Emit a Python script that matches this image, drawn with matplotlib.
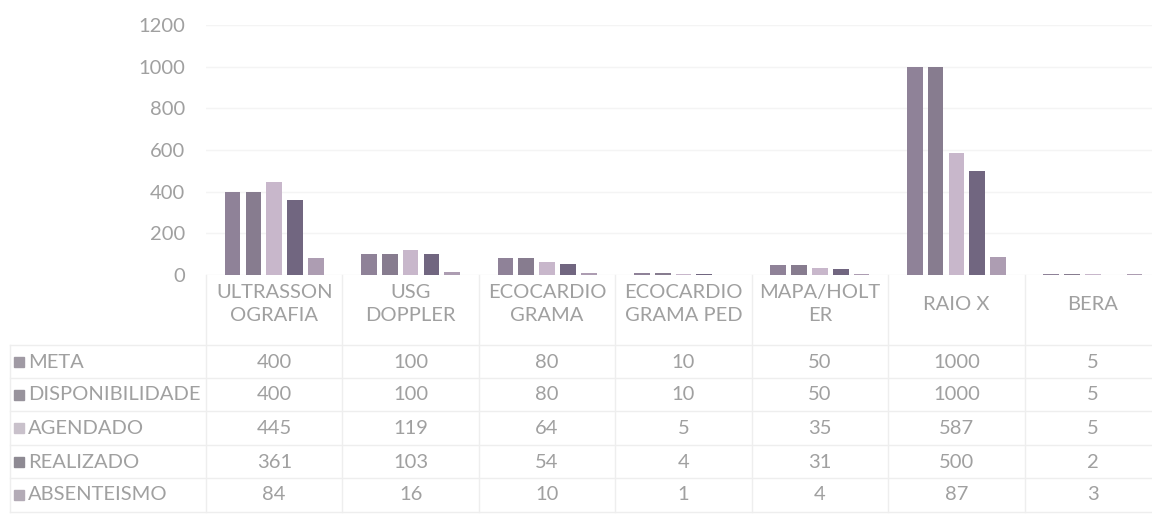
import matplotlib.pyplot as plt
import numpy as np
from matplotlib.lines import Line2D
from matplotlib.patches import Rectangle

# data
categories = ['ULTRASSON\nOGRAFIA', 'USG\nDOPPLER', 'ECOCARDIO\nGRAMA',
              'ECOCARDIO\nGRAMA PED', 'MAPA/HOLT\nER', 'RAIO X', 'BERA']
series = ['META', 'DISPONIBILIDADE', 'AGENDADO', 'REALIZADO', 'ABSENTEISMO']
meta = [400, 100, 80, 10, 50, 1000, 5]
disponibilidade = [400, 100, 80, 10, 50, 1000, 5]
agendado = [445, 119, 64, 5, 35, 587, 5]
realizado = [361, 103, 54, 4, 31, 500, 2]
absenteismo = [84, 16, 10, 1, 4, 87, 3]
values = [meta, disponibilidade, agendado, realizado, absenteismo]
colors = ['#8f8298', '#877c8f', '#c8b7cb', '#716680', '#ad9db2']
key_colors = ['#a09aa4', '#98939c', '#c9c1cb', '#8e8a93', '#b3abb6']

plt.rcParams['font.family'] = ['Lato', 'DejaVu Sans']
txt = '#a0a0a0'
line_c = '#eeeeee'
fs = 14.5

W, H = 1152, 520
fig = plt.figure(figsize=(W / 100, H / 100), dpi=100)
# plot area in pixels: x 206..1161, y 25..275
ax = fig.add_axes([206 / W, (H - 275) / H, 955 / W, 250 / H])

x = np.arange(len(categories))
pitch = 0.1525
width = 0.115
for k, (name, vals) in enumerate(zip(series, values)):
    ax.bar(x + (k - 2) * pitch, vals, width, color=colors[k], label=name, zorder=3)

ax.set_xlim(-0.5, len(categories) - 0.5)
ax.set_ylim(0, 1200)
ax.set_yticks(range(0, 1201, 200))
ax.grid(axis='y', color='#f4f4f4', linewidth=1, zorder=0)
for s in ax.spines.values():
    s.set_visible(False)
ax.tick_params(axis='y', length=0, pad=15, labelcolor=txt, labelsize=fs)
ax.set_xticks(x)
ax.set_xticklabels(categories, fontsize=fs, color=txt, va='center',
                   multialignment='center', linespacing=1.45)
ax.tick_params(axis='x', length=0, pad=21)


def ay(py):
    # pixel row -> axes fraction
    return (275 - py) / 250


# data table under the chart
row_y = [362, 395, 428, 462, 495]
line_y = [345, 378, 411, 445, 478, 512]
xt = ax.get_xaxis_transform()
for r, vals in enumerate(values):
    for i, v in enumerate(vals):
        ax.text(i, ay(row_y[r]), str(v), transform=xt, ha='center', va='center',
                fontsize=fs, color=txt, clip_on=False)
    fig.text(28 / W, 1 - row_y[r] / H, series[r], ha='left', va='center',
             fontsize=fs, color=txt)
    fig.add_artist(Rectangle((14 / W, 1 - (row_y[r] + 5) / H), 10 / W, 10 / H,
                             transform=fig.transFigure, color=key_colors[r]))

for py in line_y:
    fig.add_artist(Line2D([10 / W, 1], [1 - py / H] * 2, color=line_c, lw=1))
for i in range(len(categories) + 1):
    ax.plot([i - 0.5] * 2, [ay(275), ay(512)], transform=xt, color=line_c,
            lw=1, clip_on=False)
fig.add_artist(Line2D([10 / W] * 2, [1 - 345 / H, 1 - 512 / H], color=line_c, lw=1))

fig.savefig('out.png', dpi=100)
